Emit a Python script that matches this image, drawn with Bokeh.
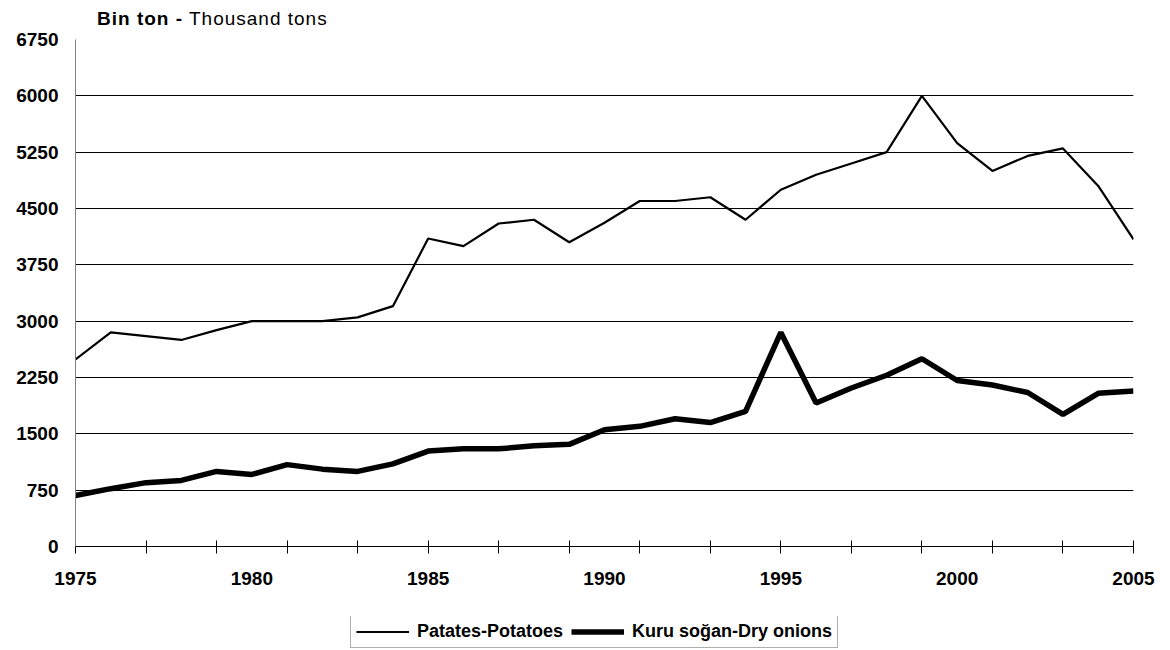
from bokeh.plotting import figure
from bokeh.models import FixedTicker, Legend, LegendItem, ColumnDataSource, Range1d, Div
from bokeh.layouts import column
from bokeh.embed import file_html
from bokeh.resources import INLINE

years = list(range(1975, 2006))
potatoes = [2490, 2850, 2800, 2750, 2880, 3000, 3000, 3000, 3050, 3200,
            4100, 4000, 4300, 4350, 4050, 4310, 4600, 4600, 4650, 4350,
            4750, 4950, 5100, 5250, 6000, 5370, 5000, 5200, 5300, 4800, 4090]
onions = [680, 770, 850, 880, 1000, 960, 1090, 1030, 1000, 1100,
          1270, 1300, 1300, 1340, 1360, 1555, 1600, 1700, 1650, 1800,
          2850, 1910, 2110, 2280, 2500, 2210, 2150, 2050, 1760, 2040, 2070]
y_ticks = [0, 750, 1500, 2250, 3000, 3750, 4500, 5250, 6000, 6750]
x_label_ticks = [1975, 1980, 1985, 1990, 1995, 2000, 2005]
x_minor_ticks = list(range(1975, 2006, 2))
series_names = ["Patates-Potatoes", "Kuru soğan-Dry onions"]
title_bold = "Bin ton -"
title_regular = "Thousand tons"

FONT = "Liberation Sans"
POT_W = 2.2
ONI_W = 5.5

src = ColumnDataSource(dict(year=years, potatoes=potatoes, onions=onions))

title_div = Div(
    text=f'<span style="font-weight:bold">{title_bold}</span> {title_regular}',
    width=1162, height=30, margin=(0, 0, 0, 0),
    styles={"font-family": FONT, "font-size": "19px", "color": "black",
            "padding-left": "97px", "padding-top": "9px", "line-height": "20px",
            "letter-spacing": "1px", "box-sizing": "border-box"})

p = figure(width=1162, height=586, output_backend="svg", toolbar_location=None,
           x_range=Range1d(1975, 2005), y_range=Range1d(0, 6750),
           min_border_left=75, min_border_right=29, min_border_top=9, min_border_bottom=70,
           margin=(0, 0, 0, 0))
p.outline_line_color = None
p.background_fill_color = "white"
p.border_fill_color = "white"

p.line("year", "potatoes", source=src, line_color="black", line_width=POT_W)
p.line("year", "onions", source=src, line_color="black", line_width=ONI_W)

xa = p.xaxis[0]
xa.ticker = FixedTicker(ticks=x_label_ticks, minor_ticks=x_minor_ticks)
xa.axis_line_color = "black"
xa.major_tick_in = 0
xa.major_tick_out = 0
xa.minor_tick_in = 6
xa.minor_tick_out = 7
xa.minor_tick_line_color = "black"
xa.major_label_standoff = 18
xa.major_label_text_font = FONT
xa.major_label_text_font_style = "bold"
xa.major_label_text_font_size = "19px"
xa.major_label_text_color = "black"

ya = p.yaxis[0]
ya.ticker = FixedTicker(ticks=y_ticks)
ya.axis_line_color = "#808080"
ya.major_tick_in = 0
ya.major_tick_out = 0
ya.minor_tick_line_color = None
ya.major_label_standoff = 17
ya.major_label_text_font = FONT
ya.major_label_text_font_style = "bold"
ya.major_label_text_font_size = "19px"
ya.major_label_text_color = "black"

p.xgrid.grid_line_color = None
p.ygrid.ticker = FixedTicker(ticks=y_ticks[1:-1])
p.ygrid.grid_line_color = "black"
p.ygrid.grid_line_width = 1

# legend strip (its own small figure; the series renderers there sit outside its view)
lf = figure(width=1162, height=34, output_backend="svg", toolbar_location=None,
            x_range=Range1d(0, 1), y_range=Range1d(0, 1),
            x_axis_type=None, y_axis_type=None,
            min_border_left=0, min_border_right=0, min_border_top=0, min_border_bottom=0,
            margin=(0, 0, 0, 0))
lf.outline_line_color = None
lf.xgrid.visible = False
lf.ygrid.visible = False
lr1 = lf.line("year", "potatoes", source=src, line_color="black", line_width=POT_W)
lr2 = lf.line("year", "onions", source=src, line_color="black", line_width=ONI_W)

legend = Legend(items=[LegendItem(label=series_names[0], renderers=[lr1]),
                       LegendItem(label=series_names[1], renderers=[lr2])],
                orientation="horizontal", location=(275, 2),
                glyph_width=53, glyph_height=19, label_height=19,
                label_standoff=8, spacing=8, padding=5, margin=0,
                label_text_font=FONT, label_text_font_style="bold",
                label_text_font_size="18px", label_text_color="black",
                border_line_color="#606060", border_line_width=1,
                background_fill_alpha=1)
lf.add_layout(legend)

layout = column(title_div, p, lf, spacing=0, margin=(0, 0, 0, 0))
open("out.html", "w").write(file_html(layout, INLINE))
